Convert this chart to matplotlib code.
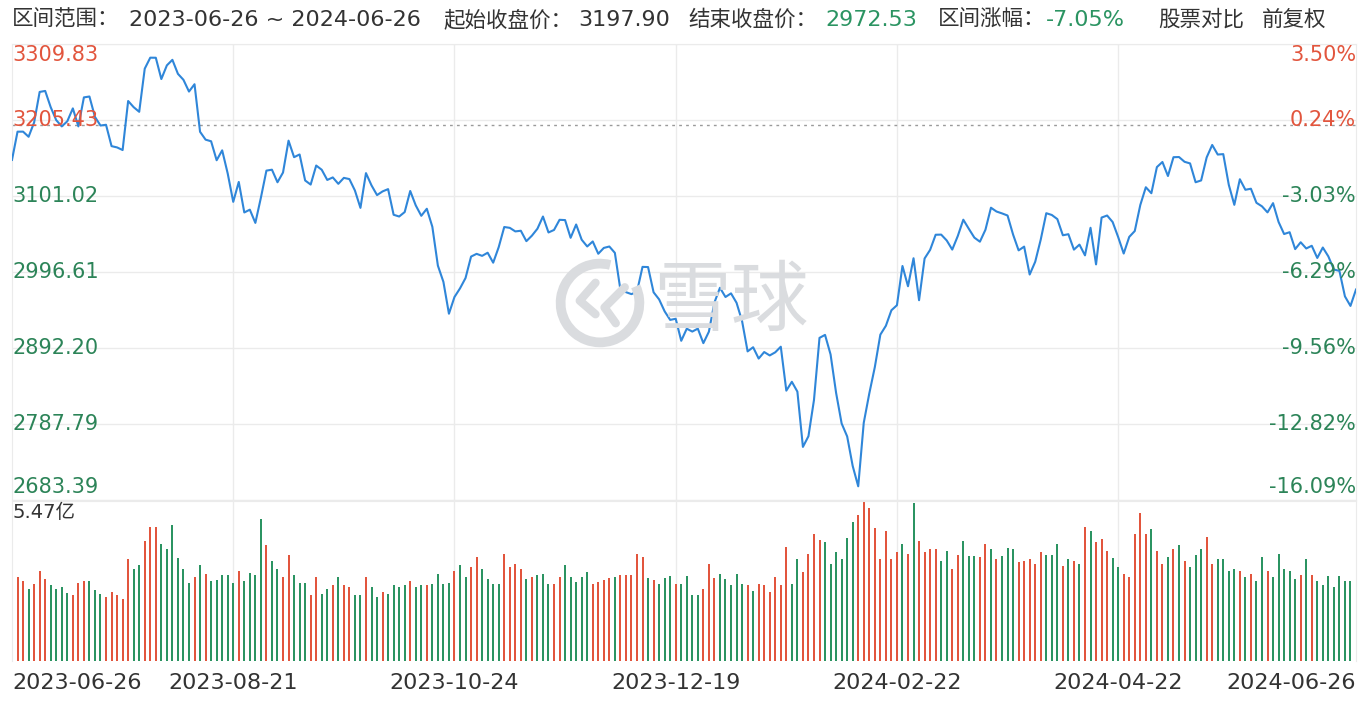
import matplotlib
matplotlib.use("Agg")
import matplotlib.pyplot as plt
from matplotlib.patches import Arc
import numpy as np

plt.rcParams['font.family'] = ['Noto Sans CJK SC', 'DejaVu Sans']
NUM_FONT = ['DejaVu Sans', 'Noto Sans CJK SC']

# 区间数据 (上证指数 2023-06-26 ~ 2024-06-26, 每日收盘)
closes = [
    3150.62, 3189.38, 3189.44, 3182.38, 3202.06,
    3243.98, 3245.35, 3222.95, 3205.20, 3196.61, 3203.70, 3221.37, 3196.65, 3236.48, 3237.70,
    3209.63, 3197.82, 3198.84, 3169.52, 3167.75, 3164.16, 3231.52, 3223.03, 3216.67, 3275.93, 3291.04,
    3290.95, 3261.69, 3280.46, 3288.08, 3268.83, 3260.62, 3244.49, 3254.56, 3189.25, 3178.43,
    3176.18, 3150.13, 3163.74, 3131.95, 3092.98, 3120.33, 3078.40, 3082.24, 3064.07, 3098.64,
    3135.89, 3137.14, 3119.88,
    3133.25, 3177.06, 3154.37, 3158.08, 3122.35, 3116.72, 3142.85, 3137.06, 3123.07, 3126.55,
    3117.74, 3125.93, 3124.25, 3108.57, 3084.70, 3132.43, 3115.61, 3102.27, 3107.32, 3110.48,
    3075.24, 3072.83, 3078.96, 3107.90, 3088.10, 3073.81, 3083.50, 3058.71, 3005.39, 2983.06,
    2939.29, 2962.24, 2974.10, 2988.30, 3017.78, 3021.55, 3018.77,
    3023.08, 3009.41, 3030.80, 3058.41, 3057.27, 3052.37, 3053.28, 3038.97, 3046.53, 3056.07,
    3072.83, 3050.93, 3054.37, 3068.32, 3067.93, 3043.61, 3061.86, 3040.97, 3031.70, 3038.55,
    3021.69, 3029.67,
    3031.64, 3022.91, 2972.30, 2968.93, 2966.21, 2969.56, 3003.65, 3003.40, 2968.76, 2958.99,
    2942.56, 2930.80, 2932.39, 2902.11, 2918.72, 2914.78, 2918.81, 2898.87, 2914.61, 2954.70,
    2974.93,
    2962.28, 2967.25, 2954.35, 2929.18, 2887.54, 2893.25, 2877.70, 2886.65, 2881.98, 2886.29,
    2893.99, 2833.62, 2845.78, 2832.28, 2756.34, 2770.98, 2820.77, 2906.11, 2910.22, 2883.36,
    2830.53, 2788.55,
    2770.74, 2730.15, 2702.19, 2789.49, 2829.70, 2865.90, 2910.54, 2922.73, 2944.02, 2950.96,
    3004.88, 2977.02, 3015.48, 2957.85, 3015.17,
    3027.02, 3047.79, 3047.98, 3039.93, 3027.40, 3046.02, 3068.46, 3055.94, 3043.83, 3038.23,
    3054.64, 3084.93, 3079.69, 3077.11, 3074.20, 3048.03, 3026.31, 3031.48, 2993.14, 3010.66,
    3041.17,
    3077.38, 3074.96, 3069.30, 3047.05, 3048.54, 3027.34, 3034.25, 3019.47, 3057.38, 3007.07,
    3071.38, 3074.22, 3065.26, 3044.60, 3021.98, 3044.82, 3052.90, 3088.64, 3113.04, 3104.82,
    3140.72, 3147.74, 3128.48, 3154.32, 3154.55, 3148.02, 3145.77, 3119.90, 3122.40, 3154.03,
    3171.15, 3157.97, 3158.54, 3116.39, 3088.87, 3124.04, 3109.57, 3111.02, 3091.68, 3086.81,
    3078.49, 3091.20, 3065.40, 3048.79, 3051.28, 3028.05, 3037.47, 3028.92, 3032.63, 3015.89,
    3030.25, 3018.05, 3000.00, 2998.14, 2963.10, 2950.00, 2972.53,
]

# 成交量 (亿)
volumes = [
    3.07, 2.87, 2.72, 2.45, 2.64, 3.07, 2.79, 2.59, 2.45, 2.53,
    2.32, 2.27, 2.68, 2.72, 2.72, 2.44, 2.30, 2.19, 2.36, 2.25,
    2.11, 3.48, 3.13, 3.27, 4.09, 4.58, 4.58, 4.01, 3.82, 4.64,
    3.53, 3.13, 2.67, 2.87, 3.27, 2.99, 2.72, 2.78, 2.93, 2.93,
    2.68, 3.07, 2.72, 3.02, 2.93, 4.84, 3.95, 3.41, 3.13, 2.87,
    3.61, 2.93, 2.66, 2.66, 2.25, 2.86, 2.30, 2.45, 2.59, 2.86,
    2.59, 2.52, 2.27, 2.25, 2.87, 2.53, 2.19, 2.36, 2.28, 2.59,
    2.54, 2.59, 2.72, 2.53, 2.59, 2.59, 2.64, 2.99, 2.64, 2.68,
    3.07, 3.27, 2.87, 3.21, 3.54, 3.13, 2.79, 2.64, 2.64, 3.67,
    3.21, 3.33, 3.13, 2.79, 2.87, 2.93, 2.99, 2.64, 2.64, 2.87,
    3.27, 2.87, 2.70, 2.87, 3.04, 2.64, 2.70, 2.76, 2.84, 2.87,
    2.93, 2.93, 2.93, 3.67, 3.56, 2.84, 2.76, 2.64, 2.84, 2.91,
    2.64, 2.64, 2.91, 2.25,
    2.25, 2.45, 3.33, 2.84, 2.99, 2.79, 2.59, 2.99, 2.64, 2.59,
    2.38, 2.64, 2.59, 2.36, 2.87, 2.59, 3.90, 2.64, 3.48, 3.04,
    3.67, 4.35, 4.15, 4.07, 3.33, 3.73, 3.48, 4.21, 4.75, 4.98,
    5.47, 5.23, 4.55, 3.48, 4.43, 3.48, 3.73, 4.01, 3.67, 5.41,
    4.09, 3.73, 3.82, 3.82, 3.41, 3.75, 3.13, 3.61, 4.09, 3.59,
    3.59, 3.56, 4.01, 3.82, 3.48, 3.59, 3.86, 3.82, 3.38, 3.41,
    3.48, 3.33, 3.73, 3.61, 3.61, 4.01, 3.25, 3.48, 3.41, 3.33,
    4.58, 4.43, 4.07, 4.18, 3.75, 3.52, 3.21, 2.99, 2.87, 4.35,
    5.07, 4.35, 4.50, 3.75, 3.33, 3.56, 3.82, 3.95, 3.41, 3.21,
    3.61, 3.82, 4.24, 3.33, 3.48, 3.48, 3.07, 3.13, 3.07, 2.87,
    2.99, 2.72, 3.56, 3.07, 2.87, 3.67, 3.13, 3.07, 2.79, 2.93,
    3.48, 2.93, 2.72, 2.59, 2.91, 2.53, 2.91, 2.72, 2.75,
]

# 涨跌 (r = 红, g = 绿)
vol_dir = (
    "grrgrrrggggrrrgggrrrrrggrrrggggggrgrgggggrggggrggrrgggrrggrgrrggrggrggggrggrggggrggrrggggrrrrgrgggrrgggggrrrrgrrrrrgrgggrggg"
    "grrrgggggrgrrrrrrggrrrrggggggrrrrrrrrgrgrrrrggrrgggrrgrgggrrrrrgggrgrgrgrrrggrrrrrgrrgrgrgggrrggggrgrggrgggggrgrgggggggg"
)

start_close = 3197.90
end_close = 2972.53
price_low, price_high = 2683.39, 3309.83
vol_max = 5.47

left_labels = ["2683.39", "2787.79", "2892.20", "2996.61", "3101.02", "3205.43", "3309.83"]
right_labels = ["-16.09%", "-12.82%", "-9.56%", "-6.29%", "-3.03%", "0.24%", "3.50%"]
date_ticks = [0, 40, 80, 120, 160, 200, 243]
date_labels = ["2023-06-26", "2023-08-21", "2023-10-24", "2023-12-19",
               "2024-02-22", "2024-04-22", "2024-06-26"]

RED = "#e2553d"
GREEN = "#2b9462"
LGREEN = "#2c8458"
TXT = "#333333"
GRID = "#ebebeb"

W, H = 1368, 702
fig = plt.figure(figsize=(W / 100, H / 100), dpi=100)
fig.patch.set_facecolor("white")


def px(x, y):
    return x / W, 1 - y / H


x = np.arange(len(closes))
n = len(closes)

# 价格面板
ax = fig.add_axes([12 / W, 1 - 500 / H, 1344 / W, 456 / H])
ax.set_xlim(0, n - 1)
ax.set_ylim(price_low, price_high)
ticks = np.linspace(price_low, price_high, 7)
for t in ticks:
    ax.axhline(t, color=GRID, lw=1, zorder=0)
for t in date_ticks[1:-1]:
    ax.axvline(t, color=GRID, lw=1, zorder=0)
ax.axhline(start_close, color="#9a9a9a", lw=1, ls=(0, (2, 3)), zorder=1)
ax.plot(x, closes, color="#2f86d9", lw=1.5, zorder=3)
for s in ax.spines.values():
    s.set_color(GRID)
ax.set_xticks([])
ax.set_yticks([])

# 水印
wm = "#dadcdf"
fig.text(*px(731, 303), "雪球", fontsize=56, color=wm, ha="center", va="center", zorder=0)
logo = fig.add_axes([555 / W, 1 - 348 / H, 90 / W, 90 / H])
logo.set_xlim(-1, 1)
logo.set_ylim(-1, 1)
logo.set_aspect("equal")
logo.axis("off")
logo.patch.set_alpha(0)
logo.add_patch(Arc((0, 0), 1.75, 1.75, theta1=75, theta2=25, lw=7, color=wm))
logo.plot([-0.1, -0.45, -0.1], [0.45, 0.05, -0.25], color=wm, lw=6, solid_capstyle="round")
logo.plot([0.55, 0.1, 0.35], [0.35, -0.1, -0.45], color=wm, lw=6, solid_capstyle="round")

lab_kw = dict(fontsize=15, family=NUM_FONT)
for t, lab in zip(ticks, left_labels):
    c = RED if t > start_close else LGREEN
    if lab == left_labels[-1]:
        ax.text(0, t - 2, lab, color=c, ha="left", va="top", **lab_kw)
    elif lab == left_labels[0]:
        ax.text(0, t + 4, lab, color=c, ha="left", va="bottom", **lab_kw)
    else:
        ax.text(0, t, lab, color=c, ha="left", va="center", **lab_kw)
for t, lab in zip(ticks, right_labels):
    c = RED if t > start_close else LGREEN
    if lab == right_labels[-1]:
        ax.text(n - 1, t - 2, lab, color=c, ha="right", va="top", **lab_kw)
    elif lab == right_labels[0]:
        ax.text(n - 1, t + 4, lab, color=c, ha="right", va="bottom", **lab_kw)
    else:
        ax.text(n - 1, t, lab, color=c, ha="right", va="center", **lab_kw)

# 成交量面板
axv = fig.add_axes([12 / W, 1 - 661 / H, 1344 / W, 160 / H])
axv.set_xlim(0, n - 1)
axv.set_ylim(0, vol_max)
bar_colors = [RED if d == "r" else GREEN for d in vol_dir[:len(volumes)]]
axv.bar(np.arange(len(volumes)), volumes, width=0.36, color=bar_colors, zorder=2)
for t in date_ticks[1:-1]:
    axv.axvline(t, color=GRID, lw=1, zorder=0)
for s in axv.spines.values():
    s.set_color(GRID)
axv.spines["bottom"].set_visible(False)
axv.set_xticks([])
axv.set_yticks([])
axv.text(0, vol_max * 0.985, f"{vol_max}亿", fontsize=14, family=NUM_FONT,
         color=TXT, ha="left", va="top")

# 日期
for t, lab in zip(date_ticks, date_labels):
    xf = (12 + t / (n - 1) * 1344) / W
    ha = "left" if t == 0 else ("right" if t == date_ticks[-1] else "center")
    fig.text(xf, 1 - 683 / H, lab, fontsize=16, family=NUM_FONT, color=TXT, ha=ha, va="center")

# 表头
hy = 20
ck = dict(fontsize=15.5, va="center", color=TXT)
nk = dict(fontsize=16, va="center", family=NUM_FONT)
fig.text(*px(12, hy), "区间范围：", **ck)
fig.text(*px(129, hy), "2023-06-26 ~ 2024-06-26", color=TXT, **nk)
fig.text(*px(443, hy), "起始收盘价：", **ck)
fig.text(*px(578, hy), f"{start_close:.2f}", color=TXT, **nk)
fig.text(*px(688, hy), "结束收盘价：", **ck)
fig.text(*px(825, hy), f"{end_close:.2f}", color=GREEN, **nk)
change = (end_close / start_close - 1) * 100
fig.text(*px(938, hy), "区间涨幅：", **ck)
fig.text(*px(1046, hy), f"{change:.2f}%", color=GREEN, **nk)
fig.text(*px(1158, hy), "股票对比", **ck)
fig.text(*px(1262, hy), "前复权", **ck)

fig.savefig("out.png", dpi=100)
